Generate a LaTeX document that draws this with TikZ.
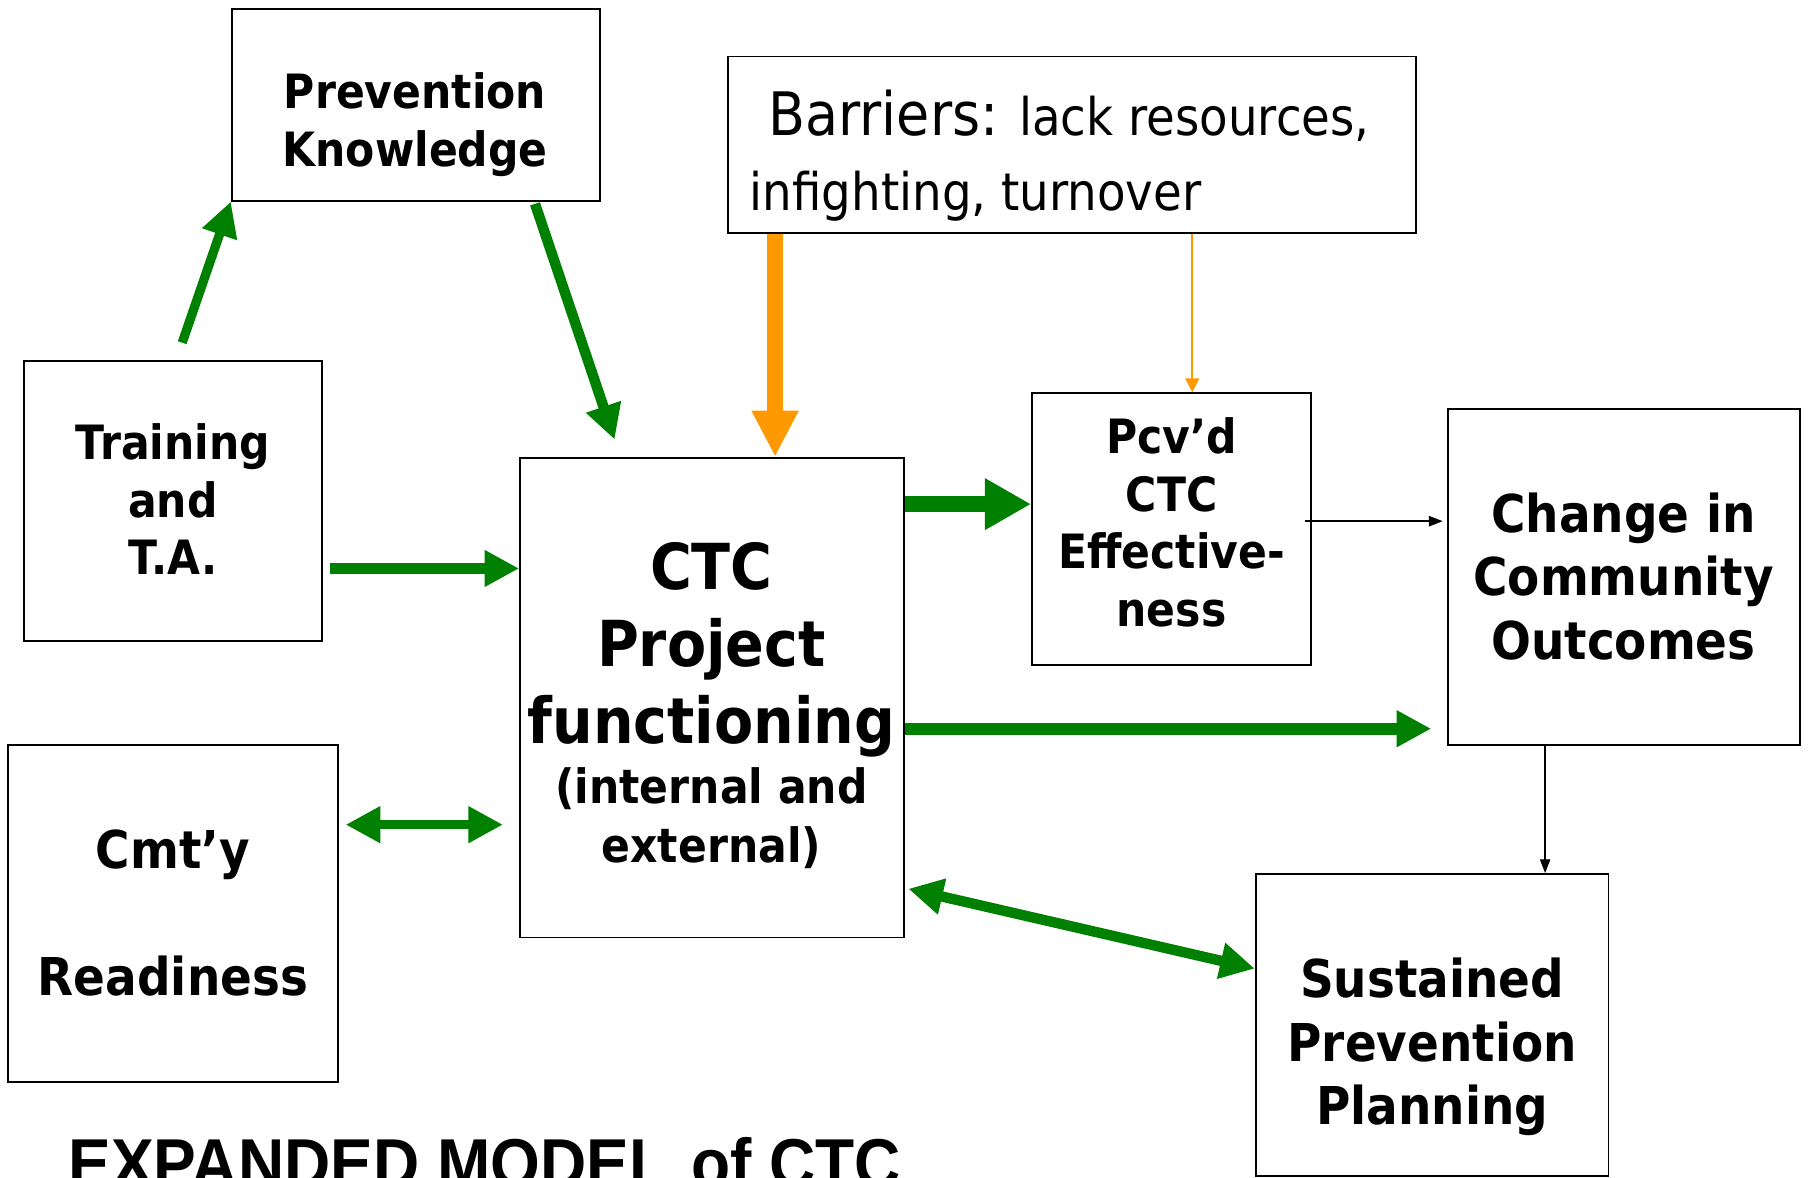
\documentclass[tikz,border=0pt]{standalone}
\usepackage{fontspec}
\setmainfont{DejaVu Sans}[FakeStretch=0.9]
\newfontfamily\titlefont{Liberation Sans}[FakeStretch=0.925]
\usetikzlibrary{arrows.meta}
\usetikzlibrary{calc}

\definecolor{flowgreen}{RGB}{0,128,0}
\definecolor{barrierorange}{RGB}{255,153,0}
\newcommand{\ctcsmall}{\fontsize{20.5pt}{25.5pt}\selectfont}

\tikzset{
  box/.style={draw, line width=0.8pt, inner sep=0pt},
  boxtext/.style={align=center, font=\bfseries\fontsize{20.5pt}{25pt}\selectfont},
  bigtext/.style={align=center, font=\bfseries\fontsize{22.6pt}{27.5pt}\selectfont},
  greenflow/.style={draw=flowgreen, line width=4.5pt, -{Triangle[length=15pt,width=15pt]}},
  greenfat/.style={draw=flowgreen, line width=7pt, -{Triangle[length=20pt,width=21pt]}},
  greenboth/.style={draw=flowgreen, line width=4.5pt, {Triangle[length=15pt,width=15pt]}-{Triangle[length=15pt,width=15pt]}},
  orangefat/.style={draw=barrierorange, line width=7pt, -{Triangle[length=20pt,width=19pt]}},
  orangethin/.style={draw=barrierorange, line width=0.8pt, -{Triangle[length=6pt,width=6pt]}},
  thinarrow/.style={draw, line width=0.6pt, -{Triangle[length=6pt,width=4.5pt]}}
}

\begin{document}
\begin{tikzpicture}[x=0.5pt,y=-0.5pt]
  \useasboundingbox (0,0) rectangle (1568,1021);
  \clip (0,0) rectangle (1568,1021);

  %% boxes
  \node[box, minimum width=159.5pt, minimum height=83pt] (know) at (360.5,91) {};
  \node[box, minimum width=298.5pt, minimum height=76.5pt] (barr) at (929.5,125.5) {};
  \node[box, minimum width=129pt, minimum height=121.5pt] (train) at (150,434.5) {};
  \node[box, minimum width=166.5pt, minimum height=208pt] (ctc) at (617.5,605) {};
  \node[box, minimum width=121pt, minimum height=118pt] (pcvd) at (1016,459) {};
  \node[box, minimum width=152.5pt, minimum height=145.5pt] (change) at (1408.5,500.5) {};
  \node[box, minimum width=143pt, minimum height=146pt] (ready) at (150,792) {};
  \node[box, minimum width=153pt, minimum height=131pt] (sustain) at (1242,889) {};

  %% texts
  \node[boxtext] (know-t) at (360,108) {Prevention\\Knowledge};
  \node[anchor=west, align=left, inner sep=0pt, font=\fontsize{22.5pt}{32.5pt}\selectfont] (barr-t) at (650,135)
    {\hspace*{8pt}{\fontsize{26pt}{32.5pt}\selectfont Barriers:}\hspace{9pt}lack resources,\\infighting, turnover};
  \node[boxtext] (train-t) at (150,433) {Training\\and\\T.A.};
  \node[boxtext, font=\bfseries\fontsize{27.5pt}{33.5pt}\selectfont] (ctc-t) at (617,612)
    {CTC\\Project\\functioning\\[-7.5pt]{\ctcsmall (internal and}\\[-8pt]{\ctcsmall external)}};
  \node[boxtext] (pcvd-t) at (1016,453) {Pcv’d\\CTC\\Effective-\\ness};
  \node[bigtext] (change-t) at (1408,500) {Change in\\Community\\Outcomes};
  \node[bigtext] (ready-t) at (150,792) {Cmt’y\\[27.5pt]Readiness};
  \node[bigtext] (sustain-t) at (1242,908) {Sustained\\Prevention\\Planning};
  \node[anchor=base west, inner sep=0pt, font=\titlefont\bfseries\fontsize{30pt}{36pt}\selectfont] (title) at (59,1030)
    {EXPANDED MODEL\hspace{10pt}of CTC};

  %% connectors
  \draw[greenflow, line width=4pt] ($(train.north)+(8,-15)$) -- (know.south west);
  \draw[greenflow] ($(know.south)+(103.5,2)$) -- ($(ctc.north)+(-84.5,-15)$);
  \draw[orangefat] ($(barr.south west)+(42,0)$) coordinate (b1) -- (b1 |- ctc.north);
  \coordinate (b2) at ($(pcvd.north)+(18,0)$);
  \draw[orangethin] (b2 |- barr.south) -- (b2);
  \draw[greenflow] ($(train.east)+(6,58.5)$) coordinate (t1) -- (t1 -| ctc.west);
  \draw[greenfat] ($(ctc.north east)+(0,41)$) coordinate (c1) -- (c1 -| pcvd.west);
  \draw[thinarrow, shorten >=2pt] ($(pcvd.east)+(-6,-7)$) coordinate (p1) -- (p1 -| change.west);
  \draw[greenflow, line width=5pt, shorten >=7pt] ($(ctc.east)+(0,27)$) coordinate (c2) -- (c2 -| change.west);
  \draw[greenboth, line width=4pt, shorten >=7pt] ($(ready.north east)+(6,70)$) coordinate (r1) -- (r1 -| ctc.west);
  \draw[thinarrow] ($(change.south)+(-68.5,0)$) coordinate (s1) -- (s1 |- sustain.north);
  \draw[greenboth] ($(ctc.south east)+(3,-43)$) -- ($(sustain.west)+(0,-49)$);
\end{tikzpicture}
\end{document}
